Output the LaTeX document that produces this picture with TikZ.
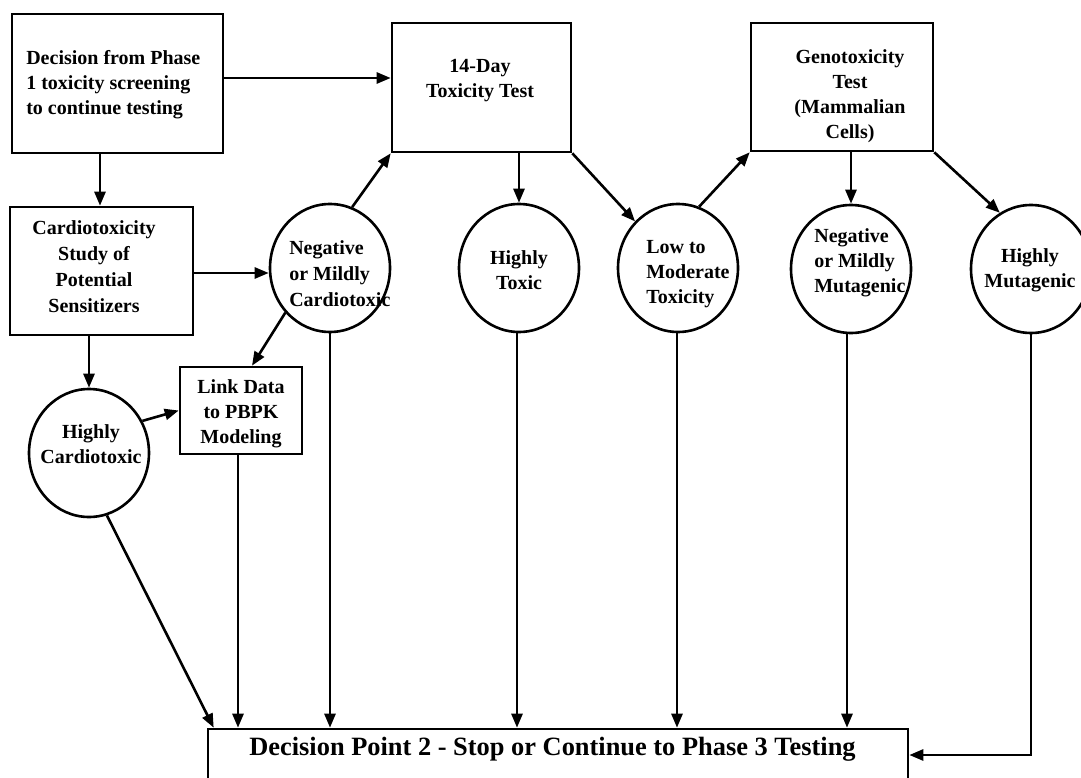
\documentclass[tikz,border=0pt]{standalone}
\usepackage{fontspec}
\setmainfont{Liberation Serif}
\usetikzlibrary{shapes.geometric,arrows.meta,calc}
\begin{document}
\begin{tikzpicture}[x=1pt,y=-1pt,
  line width=2.6pt,
  >={Triangle[length=14pt,width=11pt]},
  boxshape/.style={draw,rectangle,inner sep=0pt,line width=2.6pt},
  circshape/.style={draw,ellipse,inner sep=0pt,minimum width=120pt,minimum height=128pt,line width=2.6pt},
  txt/.style={font=\fontsize{20}{25}\selectfont\bfseries,inner sep=0pt,align=center},
  txtl/.style={txt,align=left,anchor=west},
  bigtxt/.style={font=\fontsize{26.4}{30}\selectfont\bfseries,inner sep=0pt},
  conn/.style={->,line width=2.6pt}
]
\useasboundingbox (0,0) rectangle (1081,778);
\clip (0,0) rectangle (1081,778);

% boxes
\node[boxshape,minimum width=211pt,minimum height=139pt] (box1) at (117.5,83.5) {};
\node[boxshape,minimum width=179pt,minimum height=129pt] (day) at (481.5,87.5) {};
\node[boxshape,minimum width=182pt,minimum height=128pt] (geno) at (842,87) {};
\node[boxshape,minimum width=183pt,minimum height=128pt] (cardio) at (101.5,271) {};
\node[boxshape,minimum width=122pt,minimum height=87pt] (link) at (241,410.5) {};
\node[boxshape,minimum width=700pt,minimum height=71pt] (dp) at (558,764.5) {};

% circles
\node[circshape] (negcardio) at (330,268) {};
\node[circshape] (hightox) at (519,268) {};
\node[circshape] (lowmod) at (678,268) {};
\node[circshape] (negmut) at (851,269) {};
\node[circshape] (highmut) at (1031,269) {};
\node[circshape] (highcardio) at (89,453) {};

% texts
\node[txtl] (box1t) at (25,84.3) {Decision from Phase\\1 toxicity screening\\to continue testing};
\node[txt] (dayt) at (480,81) {14-Day\\Toxicity Test};
\node[txt] (genot) at (850,96) {Genotoxicity\\Test\\(Mammalian\\Cells)};
\node[txt,font=\fontsize{20}{26}\selectfont\bfseries] (cardiot) at (94,266.5) {Cardiotoxicity\\Study of\\Potential\\Sensitizers};
\node[txt] (linkt) at (241,413.5) {Link Data\\to PBPK\\Modeling};
\node[txtl,font=\fontsize{20}{26}\selectfont\bfseries] (negcardiot) at (288,273.5) {Negative\\or Mildly\\Cardiotoxic};
\node[txt] (hightoxt) at (519,270.5) {Highly\\Toxic};
\node[txtl] (lowmodt) at (645,274) {Low to\\Moderate\\Toxicity};
\node[txtl] (negmutt) at (813,263) {Negative\\or Mildly\\Mutagenic};
\node[txt] (highmutt) at (1030,270.5) {Highly\\Mutagenic};
\node[txt] (highcardiot) at (91,444) {Highly\\Cardiotoxic};
\node[bigtxt,anchor=base] (dpt) at (552.5,755) {Decision Point 2 - Stop or Continue to Phase 3 Testing};

% connectors
\draw[conn] ([yshift=5.5pt]box1.east) -- ([yshift=5.5pt]box1.east -| day.west);
\draw[conn] ([xshift=-17.5pt]box1.south) -- ([xshift=-17.5pt]box1.south |- cardio.north);
\draw[conn] ([yshift=-2pt]cardio.east) -- ([yshift=-2pt]cardio.east -| negcardio.west);
\draw[conn] (negcardio.70) -- (day.south west);
\draw[conn] (hightox.north |- day.south) -- (hightox.north);
\draw[conn] (day.south east) -- (lowmod);
\draw[conn] (lowmod.71) -- (geno.south west);
\draw[conn] (negmut.north |- geno.south) -- (negmut.north);
\draw[conn] (geno.south east) -- (highmut.119);
\draw[conn] (highcardio.north |- cardio.south) -- (highcardio.north);
\draw[conn] (negcardio.225) -- ([xshift=11pt]link.north);
\draw[conn] (highcardio.31) -- (link.west);
\draw[conn] (highcardio.286) -- ([xshift=7pt]dp.north west);
\draw[conn] ([xshift=-3pt]link.south) -- ([xshift=-3pt]link.south |- dp.north);
\draw[conn] (negcardio.south) -- (negcardio.south |- dp.north);
\draw[conn] ([xshift=-2pt]hightox.south) -- ([xshift=-2pt]hightox.south |- dp.north);
\draw[conn] ([xshift=-1pt]lowmod.south) -- ([xshift=-1pt]lowmod.south |- dp.north);
\draw[conn] ([xshift=-4pt]negmut.south) -- ([xshift=-4pt]negmut.south |- dp.north);
\draw[conn] (highmut.south) |- ([yshift=9.5pt]dp.east);
\end{tikzpicture}
\end{document}
